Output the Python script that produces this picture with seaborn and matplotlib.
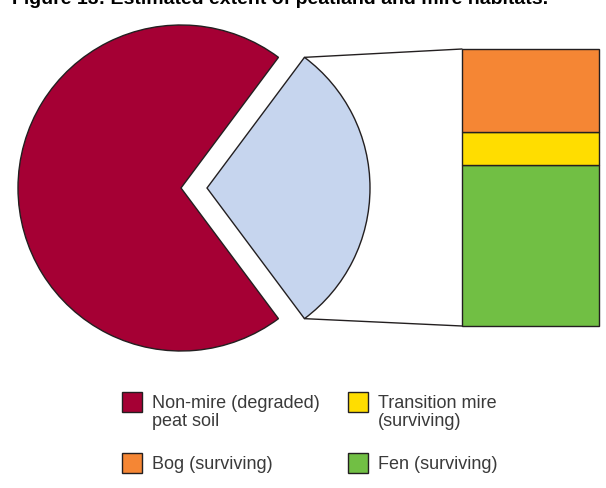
import matplotlib
matplotlib.use("Agg")
import matplotlib.pyplot as plt
from matplotlib.patches import Rectangle, ConnectionPatch
import numpy as np
import seaborn as sns

# ---- data (shares of total peat area, %) ----
categories = ["Non-mire (degraded)\npeat soil", "Bog (surviving)",
              "Transition mire\n(surviving)", "Fen (surviving)"]
nonmire_value = 70.4
surviving_labels = ["Fen (surviving)", "Transition mire\n(surviving)", "Bog (surviving)"]
surviving_values = [17.2, 3.5, 8.9]   # bottom -> top in the breakdown bar
title_text = "Figure 13: Estimated extent of peatland and mire habitats."

# ---- styling ----
sns.set_theme(style="white")
plt.rcParams["font.family"] = ["Liberation Sans", "DejaVu Sans"]

palette = sns.color_palette(["#A50034", "#C6D5EE", "#F58634", "#FFDD00", "#71BF44"])
c_red, c_blue, c_orange, c_yellow, c_green = palette
edge = "#231F20"
text_col = "#3a3a3a"
color_map = {
    "Non-mire (degraded)\npeat soil": c_red,
    "Bog (surviving)": c_orange,
    "Transition mire\n(surviving)": c_yellow,
    "Fen (surviving)": c_green,
}

W, H = 606, 488
fig = plt.figure(figsize=(W / 100, H / 100), dpi=100)
fig.patch.set_facecolor("white")

# full-figure axes in pixel units (y up)
ax = fig.add_axes([0, 0, 1, 1])
surviving_total = float(np.sum(surviving_values))
total = surviving_total + nonmire_value
frac = surviving_total / total
wedges, _ = ax.pie([surviving_total, nonmire_value],
                   colors=[c_blue, c_red],
                   startangle=-frac * 180,
                   explode=[26, 0],
                   center=(181, 300), radius=163,
                   wedgeprops=dict(edgecolor=edge, linewidth=1.0))
ax.set_xlim(0, W)
ax.set_ylim(0, H)
ax.set_aspect("equal")
ax.axis("off")

# breakdown bar
bx0, by_top, bx1, by_bot = 462, 49, 599, 326
ax_bar = fig.add_axes([bx0 / W, 1 - by_bot / H, (bx1 - bx0) / W, (by_bot - by_top) / H])
bottoms = np.concatenate([[0], np.cumsum(surviving_values)[:-1]])
for lab, val, b in zip(surviving_labels, surviving_values, bottoms):
    bars = ax_bar.bar(0, val, bottom=b, width=1.0, color=color_map[lab],
                      edgecolor=edge, linewidth=1.0)
    for p in bars:
        p.set_clip_on(False)
ax_bar.set_xlim(-0.5, 0.5)
ax_bar.set_ylim(0, surviving_total)
ax_bar.axis("off")

# connector lines from exploded wedge edges to bar corners
w = wedges[0]
cx, cy = w.center
for theta, yfrac in [(w.theta2, 1.0), (w.theta1, 0.0)]:
    px = cx + w.r * np.cos(np.deg2rad(theta))
    py = cy + w.r * np.sin(np.deg2rad(theta))
    con = ConnectionPatch(xyA=(px, py), coordsA=ax.transData,
                          xyB=(0, yfrac), coordsB=ax_bar.transAxes,
                          color=edge, linewidth=1.0)
    fig.add_artist(con)

# title (partially cut off at top, as in reference)
fig.text(12 / W, 1 - 4 / H, title_text, fontsize=14, fontweight="bold",
         color="black", va="baseline", ha="left")

# legend (manual squares + labels)
legend_pos = [
    ("Non-mire (degraded)\npeat soil", 122, 392),
    ("Transition mire\n(surviving)", 348, 392),
    ("Bog (surviving)", 122, 453),
    ("Fen (surviving)", 348, 453),
]
for lab, x, ytop in legend_pos:
    ax.add_patch(Rectangle((x, H - ytop - 20), 20, 20, facecolor=color_map[lab],
                           edgecolor=edge, linewidth=1.0))
    ax.text(x + 30, H - ytop - 3, lab, fontsize=13, color=text_col,
            va="top", ha="left", linespacing=1.1)

fig.savefig("out.png", dpi=100, facecolor="white")
